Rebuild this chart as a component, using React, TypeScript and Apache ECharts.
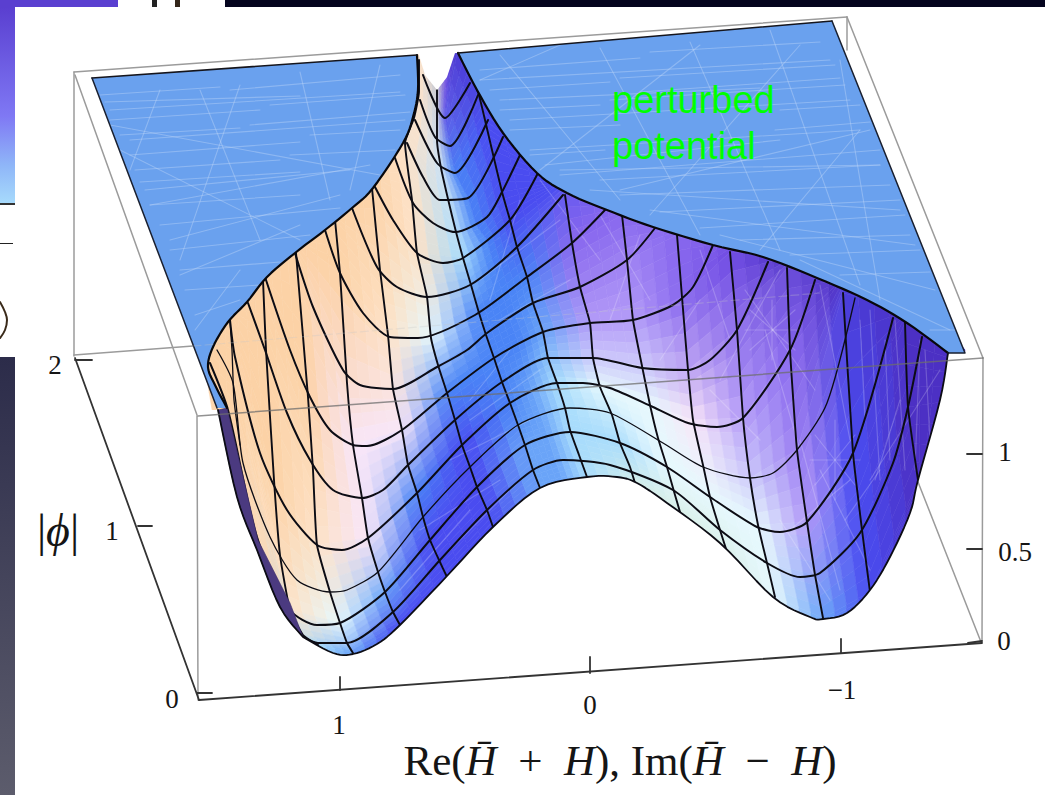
import React, { useEffect, useRef } from "react";
import * as echarts from "echarts";

type P = [number, number];

// Mesh columns: first row index, then node per row (rows 1..17)
const colL = { start: 14, pts: [[208, 335], [205, 367], [222, 470], [270, 630]] as P[] };
const colU = { start: 13, pts: [[230, 322], [232, 350], [234, 400], [262, 545], [290, 610]] as P[] };
const colV = { start: 11, pts: [[263, 280], [266, 350], [274, 480], [280, 555], [290, 610], [303, 635], [318, 645]] as P[] };
const colW = { start: 10, pts: [[296, 253], [308, 397], [313, 470], [317, 545], [330, 592], [340, 623], [347, 643], [353, 653]] as P[] };
const colX = { start: 8, pts: [[335, 220], [340, 273], [347, 383], [353, 445], [362, 498], [368, 538], [378, 572], [385, 592], [393, 612], [400, 625]] as P[] };
const colY = { start: 7, pts: [[372, 188], [380, 270], [388, 335], [393, 389], [402, 430], [408, 465], [417, 493], [423, 517], [430, 540], [439, 560], [447, 577]] as P[] };
const colZ = { start: 2, pts: [[419, 60], [419, 92], [414, 118], [405, 143], [412, 200], [417, 253], [427, 297], [431, 338], [438, 365], [447, 393], [455, 420], [462, 445], [470, 467], [477, 487], [487, 510], [493, 527]] as P[] };
const colA = { start: 1, pts: [[437, 90], [437, 116], [437, 140], [441, 168], [448, 199], [456, 232], [463, 258], [471, 285], [479, 313], [486, 335], [494, 358], [502, 382], [510, 403], [518, 425], [525, 445], [533, 470], [540, 488]] as P[] };
const colValley = { start: 1, pts: [[447, 77], [445, 118], [450, 146], [455, 173], [468, 198], [476, 225], [487, 240], [494, 266], [503, 296], [510, 320], [519, 345], [525, 370], [533, 393], [541, 416], [548, 437], [556, 462], [563, 482]] as P[] };
const colB = { start: 2, pts: [[458, 48], [478, 92], [485, 120], [492, 150], [502, 192], [510, 220], [517, 247], [527, 277], [533, 303], [543, 332], [548, 358], [557, 383], [565, 408], [570, 430], [579, 455], [587, 477]] as P[] };
const colC = { start: 8, pts: [[565, 195], [572, 243], [580, 287], [590, 323], [593, 358], [600, 387], [612, 415], [620, 443], [630, 467], [635, 483]] as P[] };
const colD = { start: 9, pts: [[622, 215], [627, 260], [633, 320], [642, 366], [650, 405], [658, 438], [667, 467], [675, 495], [680, 512]] as P[] };
const colE = { start: 10, pts: [[677, 235], [682, 297], [688, 370], [693, 420], [703, 465], [710, 497], [720, 530], [728, 555]] as P[] };
const colF = { start: 11, pts: [[730, 252], [737, 330], [743, 418], [750, 478], [758, 525], [767, 563], [775, 597]] as P[] };
const colG = { start: 12, pts: [[787, 268], [790, 350], [797, 450], [807, 522], [815, 575], [823, 618]] as P[] };
const colH = { start: 14, pts: [[843, 293], [853, 453], [862, 530], [870, 592]] as P[] };
const colI = { start: 15, pts: [[905, 322], [908, 407], [918, 480]] as P[] };
const colQ = { start: 14, pts: [[925, 300], [965, 350], [955, 400], [925, 490]] as P[] };
const meshCols = [colL, colU, colV, colW, colX, colY, colZ, colA, colValley, colB, colC, colD, colE, colF, colG, colH, colI, colQ];
const drawnCols = [colV, colW, colX, colY, colZ, colA, colB, colC, colD, colE, colF, colG, colH, colI];
const colUShort: P[] = [[230, 322], [232, 350], [234, 400], [240, 445]];

// Mesh rows
const row2: P[] = [[423, 75], [445, 118], [470, 83]];
const row3: P[] = [[420, 100], [435, 137], [450, 146], [478, 95]];
const row4: P[] = [[415, 120], [437, 163], [455, 173], [488, 120]];
const row5: P[] = [[407, 143], [423, 177], [440, 200], [468, 198], [503, 137]];
const row6: P[] = [[395, 158], [413, 203], [433, 223], [455, 232], [487, 217], [502, 192], [520, 155]];
const row7: P[] = [[375, 187], [393, 220], [417, 253], [443, 263], [463, 258], [510, 220], [538, 173]];
const row8: P[] = [[352, 208], [377, 267], [397, 287], [427, 297], [470, 285], [517, 247], [563, 195]];
const row9: P[] = [[325, 230], [340, 273], [363, 313], [390, 337], [418, 338], [475, 315], [527, 277], [572, 243], [605, 210]];
const row10: P[] = [[295, 253], [313, 307], [343, 370], [360, 385], [393, 389], [437, 367], [467, 350], [487, 333], [533, 303], [580, 287], [627, 260], [655, 228]];
const row11: P[] = [[265, 277], [290, 350], [310, 397], [330, 430], [353, 445], [367, 446], [402, 430], [447, 393], [494, 358], [543, 332], [590, 323], [633, 320], [673, 305], [693, 287], [713, 245]];
const row12: P[] = [[248, 303], [265, 350], [287, 413], [310, 460], [333, 490], [362, 498], [383, 490], [408, 465], [455, 420], [502, 382], [548, 358], [593, 358], [642, 368], [688, 370], [710, 360], [737, 330], [768, 262]];
const row13: P[] = [[230, 320], [235, 357], [260, 453], [287, 510], [317, 545], [342, 550], [368, 538], [417, 493], [462, 445], [510, 403], [557, 383], [583, 383], [610, 388], [653, 407], [688, 423], [717, 427], [743, 418], [790, 350], [815, 280]];
const row14: P[] = [[217, 350], [233, 383], [243, 463], [270, 537], [297, 580], [330, 592], [347, 590], [378, 572], [423, 517], [470, 467], [518, 425], [570, 408], [610, 413], [663, 443], [703, 467], [750, 478], [773, 473], [797, 450], [827, 403], [855, 298]];
const row15: P[] = [[210, 363], [228, 410], [257, 537], [290, 610], [317, 625], [340, 623], [385, 592], [430, 540], [477, 487], [525, 445], [570, 432], [620, 443], [667, 467], [710, 497], [757, 527], [780, 532], [807, 522], [853, 453], [893, 318]];
const row16: P[] = [[303, 637], [318, 643], [347, 643], [393, 612], [440, 560], [487, 510], [533, 470], [563, 460], [610, 465], [673, 490], [720, 530], [767, 563], [800, 577], [820, 573], [860, 533], [893, 463], [908, 407], [922, 337]];
const meshRows = [row2, row3, row4, row5, row6, row7, row8, row9, row10, row11, row12, row13, row14, row15, row16];

// Surface shading keys: one letter per mesh column at the listed mesh rows
const palette: Record<string, string> = {
  o: "#fcd2a6", p: "#fde2c8", w: "#f8e6f8", c: "#e6f8fd", h: "#cfe2f4", g: "#c8c8d0", l: "#a8dcfc",
  s: "#6aa4f8", b: "#4a84f6", i: "#4a4cf0", v: "#8868ee", m: "#b49cf8", d: "#4c30c4", e: "#d8efe8", x: "#6e4ae2",
};
const shadeRows = [1, 4, 7, 9, 11, 13, 15, 17];
const shadeKeys = [
  "oooooopgxdvvvvdddd",
  "oooooophbiivvvdddd",
  "ooooooplbiivvvdddd",
  "ooooopcbbbvvvvdddd",
  "oooowwbbbsmmvxdddd",
  "ooopwbibslccwmvddd",
  "oopcsiissllcccmidd",
  "pplsiiissleeecsidd",
];

// Outline
const edgeLeft: P[] = [[417, 55], [418, 90], [413, 117], [403, 143], [373, 188], [352, 208], [325, 230], [295, 253], [267, 277], [247, 302], [228, 322], [213, 347], [208, 367], [215, 385], [227, 408]];
const edgeRight: P[] = [[458, 53], [477, 90], [503, 133], [537, 173], [567, 193], [607, 210], [653, 227], [713, 245], [763, 257], [817, 278], [867, 300], [907, 323], [948, 353]];
const silhouetteLeft: P[] = [[218, 410], [237, 497], [257, 550], [280, 607], [303, 637]];
const silhouetteFront: P[] = [[303, 637], [333, 653], [353, 654], [377, 644], [400, 625], [447, 576], [493, 527], [540, 488], [587, 477], [617, 477], [637, 483], [667, 503], [720, 543], [773, 597], [810, 617], [823, 619], [847, 613], [870, 590], [890, 557], [910, 513], [918, 480], [940, 400], [948, 353]];
const sliverInner: P[] = [[303, 637], [290, 603], [258, 540], [227, 408]];
const notch: P[] = [[418, 52], [425, 75], [437, 90], [447, 77], [456, 50], [440, 40]];
const aboveNotch: P[] = [[415, 54], [458, 53], [475, 51], [475, 24], [415, 24]];
const plateauTopLeft: P[] = [[92, 78], [417, 55]];
const plateauTopRight: P[] = [[458, 53], [832, 21]];
const plateauRightEdge: P[] = [[832, 21], [965, 353], [948, 353]];
const plateauLeftEdge: P[] = [[92, 78], [217, 408]];
const cutOffParen: P[] = [[0, 302], [5, 312], [7, 320], [5, 330], [0, 338]];

// Faint triangulation scratches on the plateau and the shaded surface
const plateauScratches: [number, number, number, number][] = [
  [110, 110, 400, 92], [130, 140, 405, 120], [125, 175, 390, 150], [150, 205, 370, 165], [140, 95, 410, 130], [170, 240, 340, 195], [180, 275, 300, 225], [120, 150, 300, 240],
  [200, 90, 260, 240], [300, 72, 330, 200], [380, 65, 350, 190], [240, 85, 180, 260], [160, 90, 130, 170], [195, 330, 240, 270], [110, 125, 380, 175], [170, 300, 280, 210],
  [480, 80, 830, 60], [510, 120, 850, 100], [530, 150, 860, 130], [560, 170, 880, 165], [590, 190, 900, 210], [650, 210, 915, 245], [720, 235, 935, 290], [800, 260, 950, 330],
  [500, 55, 620, 200], [600, 48, 700, 235], [690, 42, 780, 250], [770, 30, 860, 285], [840, 60, 880, 300], [560, 45, 480, 80], [700, 45, 540, 170], [800, 45, 650, 215], [860, 130, 760, 250], [900, 215, 820, 280], [930, 285, 880, 310], [620, 190, 870, 130],
  [100, 95, 220, 87], [230, 90, 400, 75], [110, 120, 260, 110], [270, 105, 405, 95], [120, 135, 240, 128], [250, 125, 410, 112], [130, 155, 300, 142], [310, 135, 400, 130], [135, 170, 280, 160], [290, 155, 395, 150],
  [145, 190, 350, 170], [150, 205, 300, 195], [160, 225, 340, 208], [170, 250, 310, 235], [180, 270, 280, 262], [185, 290, 260, 285], [195, 315, 240, 300], [105, 102, 300, 96], [118, 148, 330, 128], [140, 182, 300, 172],
  [480, 70, 640, 58], [650, 52, 820, 42], [490, 90, 610, 82], [620, 78, 835, 65], [500, 110, 600, 105], [610, 100, 845, 85], [510, 130, 620, 125], [780, 110, 860, 105], [530, 155, 605, 150], [775, 130, 870, 122],
  [560, 175, 880, 150], [600, 180, 880, 165], [620, 195, 890, 185], [660, 212, 900, 200], [700, 228, 905, 215], [740, 240, 910, 235], [790, 255, 920, 250], [840, 275, 930, 272], [880, 295, 940, 290], [910, 315, 950, 310],
  [930, 330, 955, 330], [470, 78, 600, 70], [640, 92, 840, 78], [500, 100, 760, 88], [545, 165, 780, 140],
];
const surfaceScratches: [number, number, number, number][] = [
  [600, 215, 650, 300], [640, 235, 610, 320], [700, 250, 730, 340], [780, 270, 720, 380], [765, 330, 800, 450], [745, 290, 815, 390], [820, 285, 850, 440], [870, 310, 880, 480], [895, 320, 905, 470], [920, 340, 915, 470], [940, 370, 870, 480], [850, 480, 790, 530],
  [820, 470, 870, 570], [800, 440, 840, 590], [780, 520, 830, 600], [760, 440, 710, 390], [420, 530, 500, 480], [440, 560, 520, 480], [400, 590, 470, 510], [450, 460, 530, 420], [480, 280, 560, 220], [500, 320, 570, 280], [540, 180, 600, 260], [520, 200, 490, 300],
  [772, 300, 772, 360], [745, 330, 800, 330], [750, 310, 795, 350], [750, 350, 795, 310], [835, 420, 835, 500], [810, 460, 860, 460], [815, 435, 855, 485], [815, 485, 855, 435], [885, 340, 890, 460], [925, 350, 930, 440], [860, 320, 865, 420], [700, 300, 660, 360],
  [875, 480, 900, 400], [845, 520, 880, 470], [470, 420, 540, 370], [510, 350, 470, 400],
];

// Picture frame and axes
const backFrame: [number, number, number, number][] = [
  [74, 72, 847, 17], [74, 72, 74, 356], [75, 75, 197, 415], [197, 416, 198, 700], [847, 17, 983, 358], [847, 17, 847, 50], [74, 355, 193, 346], [918, 482, 981, 642], [983, 358, 982, 643],
];
const crossFrame: [number, number, number, number][] = [[198, 416, 983, 358]];
const faintFrame: [number, number, number, number][] = [[193, 346, 820, 293]];
const axisLines: [number, number, number, number][] = [
  [75, 358, 199, 700], [199, 700, 982, 643], [75, 360, 92, 360], [138, 526, 152, 526], [197, 693, 212, 693], [340, 690, 340, 677], [590, 673, 590, 657], [841, 653, 841, 639], [967, 454, 982, 454], [967, 549, 982, 549], [968, 643, 982, 641],
];
const tickLabels: { text: string; x: number; y: number }[] = [
  { text: "2", x: 55, y: 365 }, { text: "1", x: 112, y: 531 }, { text: "0", x: 172, y: 699 },
  { text: "1", x: 339, y: 725 }, { text: "0", x: 590, y: 705 }, { text: "\u22121", x: 842, y: 690 },
  { text: "1", x: 1005, y: 452 }, { text: "0.5", x: 1015, y: 552 }, { text: "0", x: 1004, y: 641 },
];

function hexRgb(h: string) {
  return [parseInt(h.slice(1, 3), 16), parseInt(h.slice(3, 5), 16), parseInt(h.slice(5, 7), 16)];
}
function shadeAt(col: number, row: number) {
  const r = Math.min(17, row);
  let k = 0;
  while (k < shadeRows.length - 2 && r > shadeRows[k + 1]) k++;
  const f = (r - shadeRows[k]) / (shadeRows[k + 1] - shadeRows[k]);
  const a = hexRgb(palette[shadeKeys[k][col]]);
  const b = hexRgb(palette[shadeKeys[k + 1][col]]);
  return [0, 1, 2].map((i) => a[i] + (b[i] - a[i]) * f);
}
function nodeAt(c: { start: number; pts: P[] }, row: number): P {
  if (row < c.start) {
    const t = c.pts[0], n = c.pts[1];
    const dx = t[0] - n[0], dy = t[1] - n[1];
    const l = Math.hypot(dx, dy) || 1;
    return [t[0] + (dx / l) * 14, t[1] + (dy / l) * 14];
  }
  if (row > 17) {
    const b = c.pts[c.pts.length - 1];
    return [b[0], b[1] + 16];
  }
  return c.pts[row - c.start];
}
// Rounds a traced outline so that the fills and the outline stroke share one curve
function rounded(pts: P[]): P[] {
  const out: P[] = [];
  for (let i = 0; i < pts.length - 1; i++) {
    const p0 = pts[Math.max(0, i - 1)], p1 = pts[i], p2 = pts[i + 1], p3 = pts[Math.min(pts.length - 1, i + 2)];
    for (let k = 0; k < 6; k++) {
      const t = k / 6, t2 = t * t, t3 = t2 * t;
      out.push([0, 1].map((d) => 0.5 * (2 * p1[d] + (p2[d] - p0[d]) * t + (2 * p0[d] - 5 * p1[d] + 4 * p2[d] - p3[d]) * t2 + (3 * p1[d] - p0[d] - 3 * p2[d] + p3[d]) * t3)) as P);
    }
  }
  out.push(pts[pts.length - 1]);
  return out;
}

export default function App() {
  const ref = useRef<HTMLDivElement>(null);
  useEffect(() => {
    const chart = echarts.init(ref.current!, null, { renderer: "svg" });
    const roundLeft = rounded(edgeLeft);
    const roundRight = rounded(edgeRight);
    const roundSideL = rounded(silhouetteLeft);
    const roundFront = rounded(silhouetteFront);
    const fullOutline = [...roundSideL, ...roundFront.slice(1)];
    const plateauLeftPoly = [...plateauTopLeft, ...roundLeft, [217, 408]] as P[];
    const plateauRightPoly = [...plateauTopRight, ...plateauRightEdge.slice(1), ...[...roundRight].reverse()] as P[];

    const poly = (api: any, pts: P[], style: any) => ({
      type: "polygon",
      shape: { points: pts.map((p) => api.coord(p)) },
      style,
      silent: true,
    });
    const segs = (api: any, list: number[][], style: any) =>
      list.map((s) => ({
        type: "line",
        shape: (() => {
          const a = api.coord([s[0], s[1]]);
          const b = api.coord([s[2], s[3]]);
          return { x1: a[0], y1: a[1], x2: b[0], y2: b[1] };
        })(),
        style: { fill: null, lineCap: "round", ...style },
        silent: true,
      }));
    const custom = (name: string, z: number, build: (api: any) => any[]) => ({
      type: "custom",
      name,
      z,
      clip: false,
      silent: true,
      coordinateSystem: "cartesian2d",
      data: [[0, 0]],
      renderItem: (_: any, api: any) => ({ type: "group", children: build(api) }),
    });
    const rect = (api: any, x0: number, y0: number, x1: number, y1: number, fill: any) =>
      poly(api, [[x0, y0], [x1, y0], [x1, y1], [x0, y1]], { fill });
    const lineSeries = (name: string, pts: P[], z: number, width: number, color: string, smooth: number) => ({
      type: "line",
      name,
      z,
      data: pts,
      smooth,
      symbol: "none",
      silent: true,
      clip: false,
      lineStyle: { color, width, cap: "round", join: "round" },
    });

    const series: any[] = [];
    series.push(
      custom("backdrop", 1, (api) => [
        rect(api, 0, 0, 1045, 795, "#ffffff"),
        rect(api, 225, 0, 1045, 7, "#04041e"),
        rect(api, 0, 0, 118, 7, "#5a3fd0"),
        rect(api, 152, 0, 157, 7, "#222222"),
        rect(api, 175, 0, 180, 7, "#33261a"),
        rect(api, 0, 7, 15, 205, new echarts.graphic.LinearGradient(0, 0, 0, 1, [
          { offset: 0, color: "#5a3fd0" }, { offset: 0.55, color: "#7f78f4" }, { offset: 0.8, color: "#8fb6f8" }, { offset: 1, color: "#a8dcfc" },
        ])),
        rect(api, 0, 203, 15, 205, "#333333"),
        rect(api, 0, 243, 13, 244, "#222222"),
        rect(api, 0, 357, 15, 795, new echarts.graphic.LinearGradient(0, 0, 0, 1, [
          { offset: 0, color: "#2c2c4a" }, { offset: 1, color: "#5c5c6c" },
        ])),
      ])
    );
    series.push(lineSeries("cutOffParen", cutOffParen, 2, 2, "#3a2a1a", 0.4));
    series.push(
      custom("surface", 2, (api) => {
        const out: any[] = [];
        const n = 4;
        for (let c = 0; c < meshCols.length - 1; c++) {
          const a = meshCols[c], b = meshCols[c + 1];
          const first = Math.min(a.start, b.start) - 1;
          for (let r = Math.max(1, first); r <= 17; r++) {
            const q00 = nodeAt(a, r), q01 = nodeAt(b, r), q10 = nodeAt(a, r + 1), q11 = nodeAt(b, r + 1);
            for (let i = 0; i < n; i++) {
              for (let j = 0; j < n; j++) {
                const pt = (u: number, v: number): P => [
                  q00[0] * (1 - u) * (1 - v) + q01[0] * u * (1 - v) + q10[0] * (1 - u) * v + q11[0] * u * v,
                  q00[1] * (1 - u) * (1 - v) + q01[1] * u * (1 - v) + q10[1] * (1 - u) * v + q11[1] * u * v,
                ];
                const u0 = i / n, u1 = (i + 1) / n, v0 = j / n, v1 = (j + 1) / n;
                const cu = (u0 + u1) / 2, cv = (v0 + v1) / 2;
                const s0 = shadeAt(c, r + cv), s1 = shadeAt(c + 1, r + cv);
                const rgb = s0.map((x, k) => Math.round(x + (s1[k] - x) * cu));
                const fill = `rgb(${rgb[0]},${rgb[1]},${rgb[2]})`;
                out.push(poly(api, [pt(u0, v0), pt(u1, v0), pt(u1, v1), pt(u0, v1)], { fill, stroke: fill, lineWidth: 0.6 }));
              }
            }
          }
        }
        out.push(...segs(api, surfaceScratches, { stroke: "rgba(255,255,255,0.2)", lineWidth: 1.2 }));
        return out;
      })
    );
    meshRows.forEach((r, i) => series.push(lineSeries(`row${i + 2}`, r, 3, i === 12 ? 1.3 : 2, "#0c0c14", 0.25)));
    drawnCols.forEach((c, i) => series.push(lineSeries(`col${i}`, c.pts, 3, 1.9, "#0c0c14", 0.15)));
    series.push(lineSeries("colU", colUShort, 3, 1.3, "#0c0c14", 0.15));
    series.push(
      custom("masks", 4, (api) => [
        poly(api, [...fullOutline, [992, 353], [992, 725], [188, 725], [188, 410]] as P[], { fill: "#ffffff" }),
        poly(api, notch, { fill: "#ffffff" }),
        poly(api, aboveNotch, { fill: "#ffffff" }),
        poly(api, [...sliverInner, ...[...roundSideL]] as P[], { fill: "#4b3a80", stroke: "#3a2c66", lineWidth: 0.6 }),
      ])
    );
    series.push(custom("frameBehind", 5, (api) => segs(api, backFrame, { stroke: "#9b9b9b", lineWidth: 1.5 })));
    series.push(
      custom("plateau", 6, (api) => [
        poly(api, plateauLeftPoly, { fill: "#6aa1ee" }),
        poly(api, plateauRightPoly, { fill: "#6aa1ee" }),
      ])
    );
    series.push(
      custom("scratches", 7, (api) => {
        const inside = (x: number, y: number, pg: P[]) => {
          let hit = false;
          for (let i = 0, j = pg.length - 1; i < pg.length; j = i++) {
            const [xi, yi] = pg[i], [xj, yj] = pg[j];
            if (yi > y !== yj > y && x < ((xj - xi) * (y - yi)) / (yj - yi) + xi) hit = !hit;
          }
          return hit;
        };
        const kept = plateauScratches.filter(
          (s) => (inside(s[0], s[1], plateauLeftPoly) && inside(s[2], s[3], plateauLeftPoly)) || (inside(s[0], s[1], plateauRightPoly) && inside(s[2], s[3], plateauRightPoly))
        );
        return segs(api, kept, { stroke: "rgba(190,214,248,0.42)", lineWidth: 1.1 });
      })
    );
    series.push(lineSeries("edgeLeft", roundLeft, 8, 2.2, "#08080c", 0));
    series.push(lineSeries("edgeRight", roundRight, 8, 2.2, "#08080c", 0));
    series.push(lineSeries("silhouette", fullOutline, 8, 1.8, "#0c0c14", 0));
    series.push(lineSeries("plateauTopL", plateauTopLeft, 8, 1.6, "#15151c", 0));
    series.push(lineSeries("plateauTopR", plateauTopRight, 8, 1.6, "#15151c", 0));
    series.push(lineSeries("plateauR", plateauRightEdge, 8, 1.5, "#1a2030", 0));
    series.push(lineSeries("plateauL", plateauLeftEdge, 8, 1.5, "#1a2030", 0));
    series.push(
      custom("frameFront", 9, (api) => [
        ...segs(api, crossFrame, { stroke: "rgba(110,110,110,0.75)", lineWidth: 1.5 }),
        ...segs(api, faintFrame, { stroke: "rgba(200,200,200,0.3)", lineWidth: 1.2, lineDash: [8, 4] }),
        ...segs(api, axisLines, { stroke: "#333333", lineWidth: 1.8 }),
      ])
    );

    const serif = "'Liberation Serif', 'DejaVu Serif', serif";
    const graphic: any[] = [
      ...tickLabels.map((t) => ({
        type: "text",
        x: t.x,
        y: t.y,
        z: 100,
        style: { text: t.text, fill: "#151515", font: `27px ${serif}`, align: "center", verticalAlign: "middle" },
      })),
      {
        type: "text",
        x: 58,
        y: 530,
        z: 100,
        style: {
          text: "|{i|\u03d5}|",
          fill: "#151515",
          font: `46px ${serif}`,
          align: "center",
          verticalAlign: "middle",
          rich: { i: { font: `italic 46px ${serif}`, fill: "#151515" } },
        },
      },
      {
        type: "text",
        x: 620,
        y: 760,
        z: 100,
        style: {
          text: "Re({i|H\u0304}  +  {i|H}), Im({i|H\u0304}  \u2212  {i|H})",
          fill: "#151515",
          font: `43px ${serif}`,
          align: "center",
          verticalAlign: "middle",
          rich: { i: { font: `italic 43px ${serif}`, fill: "#151515" } },
        },
      },
      {
        type: "text",
        x: 612,
        y: 100,
        z: 100,
        style: { text: "perturbed", fill: "#00ff00", font: "38px 'Liberation Sans', Arial, sans-serif", align: "left", verticalAlign: "middle" },
      },
      {
        type: "text",
        x: 612,
        y: 146,
        z: 100,
        style: { text: "potential", fill: "#00ff00", font: "38px 'Liberation Sans', Arial, sans-serif", align: "left", verticalAlign: "middle" },
      },
    ];

    chart.setOption({
      animation: false,
      backgroundColor: "#ffffff",
      grid: { left: 0, right: 0, top: 0, bottom: 0 },
      xAxis: { type: "value", min: 0, max: 1045, show: false },
      yAxis: { type: "value", min: 0, max: 795, inverse: true, show: false },
      series,
      graphic,
    });
    return () => chart.dispose();
  }, []);
  return <div ref={ref} style={{ position: "absolute", left: 0, top: 0, width: 1045, height: 795, overflow: "hidden" }} />;
}
